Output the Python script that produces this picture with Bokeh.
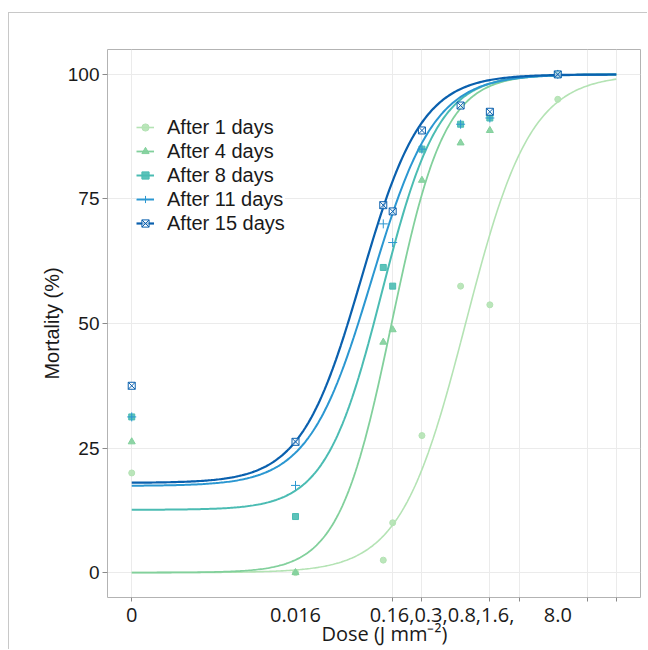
import numpy as np
from bokeh.plotting import figure
from bokeh.models import Range1d, FixedTicker, Legend, LegendItem
from bokeh.embed import file_html
from bokeh.resources import INLINE

# ---------------- data ----------------
doses = [0, 0.016, 0.128, 0.16, 0.32, 0.8, 1.6, 8.0]
series_names = ["After 1 days", "After 4 days", "After 8 days", "After 11 days", "After 15 days"]
mort_1d = [20.0, 0.0, 2.5, 10.0, 27.5, 57.5, 53.75, 95.0]
mort_4d = [26.25, 0.0, 46.25, 48.75, 78.75, 86.25, 88.75, 100.0]
mort_8d = [31.25, 11.25, 61.25, 57.5, 85.0, 90.0, 91.25, 100.0]
mort_11d = [31.25, 17.5, 70.0, 66.25, 85.0, 90.0, 91.25, 100.0]
mort_15d = [37.5, 26.25, 73.75, 72.5, 88.75, 93.75, 92.5, 100.0]

# fitted log-logistic curves (parameters)
fit_lower = [0.0, 0.0, 12.6, 17.4, 18.0]
fit_upper = [100.0, 100.0, 100.0, 100.0, 100.0]
fit_ed50 = [0.9, 0.156, 0.124, 0.097, 0.076]
fit_slope = [1.3, 1.6, 1.5, 1.35, 1.4]

zero_dose_pos = 0.00033          # where dose 0 sits on the log axis
curve_end = 32.0
grid_ticks = [zero_dose_pos, 0.16, 0.32, 1.6, 3.2, 16.0, 32.0]
label_ticks = [zero_dose_pos, 0.016, 0.515, 8.0]
label_texts = ["0", "0.016", "0.16,0.3,0.8,1.6,", "8.0"]
y_ticks = [0, 25, 50, 75, 100]

colors = ["#b4e3b4", "#82d09c", "#4bbcb3", "#2b97d1", "#0a60ae"]
markers = ["circle", "triangle", "square", "cross", "square_x"]
msizes = [6, 7, 6, 9, 7]
lwidths = [1.6, 1.8, 2.0, 2.0, 2.2]

# ---------------- figure ----------------
lo, hi = np.log10(zero_dose_pos), np.log10(curve_end)
pad = 0.05 * (hi - lo)
p = figure(
    width=639, height=637,
    x_axis_type="log",
    x_range=Range1d(10 ** (lo - pad), 10 ** (hi + pad)),
    y_range=Range1d(-5, 105),
    output_backend="svg", toolbar_location=None,
    min_border_left=98, min_border_right=8, min_border_top=36, min_border_bottom=53,
    background_fill_color="white", border_fill_color="white",
)
# light grey picture frame, open to the right and bottom
p.styles = {"margin-left": "8px", "margin-top": "12px",
            "border-top": "1px solid #c8c8c8", "border-left": "1px solid #c8c8c8"}
p.outline_line_color = "#b3b3b3"
p.outline_line_width = 1

# grids
p.xgrid.ticker = FixedTicker(ticks=grid_ticks)
p.ygrid.ticker = FixedTicker(ticks=y_ticks)
p.xgrid.grid_line_color = "#ebebeb"
p.ygrid.grid_line_color = "#ebebeb"
p.xgrid.minor_grid_line_color = None
p.ygrid.minor_grid_line_color = None

# x axis
xa = p.xaxis[0]
xa.ticker = FixedTicker(ticks=label_ticks, minor_ticks=grid_ticks)
xa.major_label_overrides = {t: s for t, s in zip(label_ticks, label_texts)}
xa.major_tick_line_color = None
xa.major_tick_out = 0
xa.major_tick_in = 0
xa.minor_tick_line_color = "#8a8a8a"
xa.minor_tick_out = 4
xa.minor_tick_in = 0
xa.axis_line_color = None
xa.major_label_text_font = "Open Sans"
xa.major_label_text_font_size = "20px"
xa.major_label_text_color = "#1a1a1a"
xa.major_label_standoff = 6
xa.axis_label = "\u00a0\u00a0\u00a0\u00a0Dose (J mm\u207b\u00b2)"
xa.axis_label_text_font = "Open Sans"
xa.axis_label_text_font_size = "20px"
xa.axis_label_text_font_style = "normal"
xa.axis_label_text_color = "#1a1a1a"
xa.axis_label_standoff = -5

# y axis
ya = p.yaxis[0]
ya.ticker = FixedTicker(ticks=y_ticks)
ya.axis_line_color = None
ya.major_tick_line_color = "#8a8a8a"
ya.major_tick_out = 5
ya.major_tick_in = 0
ya.minor_tick_line_color = None
ya.major_label_text_font = "Liberation Sans"
ya.major_label_text_font_size = "19px"
ya.major_label_text_color = "#1a1a1a"
ya.major_label_standoff = 3
ya.axis_label = "Mortality (%)"
ya.axis_label_text_font = "Liberation Sans"
ya.axis_label_text_font_size = "20px"
ya.axis_label_text_font_style = "normal"
ya.axis_label_text_color = "#1a1a1a"
ya.axis_label_standoff = 2

# ---------------- curves and points ----------------
all_mort = [mort_1d, mort_4d, mort_8d, mort_11d, mort_15d]
xpos = [zero_dose_pos if d == 0 else d for d in doses]
xs = np.logspace(lo, hi, 300)
items = []
for i, name in enumerate(series_names):
    c, d, e, b = fit_lower[i], fit_upper[i], fit_ed50[i], fit_slope[i]
    ys = c + (d - c) / (1.0 + (xs / e) ** (-b))
    ln = p.line(xs, ys, line_color=colors[i], line_width=lwidths[i])
    if markers[i] in ("cross", "square_x"):
        sc = p.scatter(xpos, all_mort[i], marker=markers[i], size=msizes[i],
                       line_color=colors[i], fill_color="white", fill_alpha=0.6, line_width=1)
    else:
        sc = p.scatter(xpos, all_mort[i], marker=markers[i], size=msizes[i],
                       line_color=colors[i], fill_color=colors[i], fill_alpha=0.9)
    items.append(LegendItem(label=name, renderers=[ln, sc]))

legend = Legend(items=items, location=(29, 362))
legend.label_text_font = "Liberation Sans"
legend.label_text_font_size = "20px"
legend.label_text_color = "#1a1a1a"
legend.glyph_width = 18
legend.glyph_height = 24
legend.label_height = 24
legend.label_standoff = 13
legend.spacing = 0
legend.padding = 8
legend.margin = 0
legend.border_line_color = None
legend.background_fill_color = "white"
legend.background_fill_alpha = 1.0
p.add_layout(legend, "center")

open("out.html", "w").write(file_html(p, INLINE))
